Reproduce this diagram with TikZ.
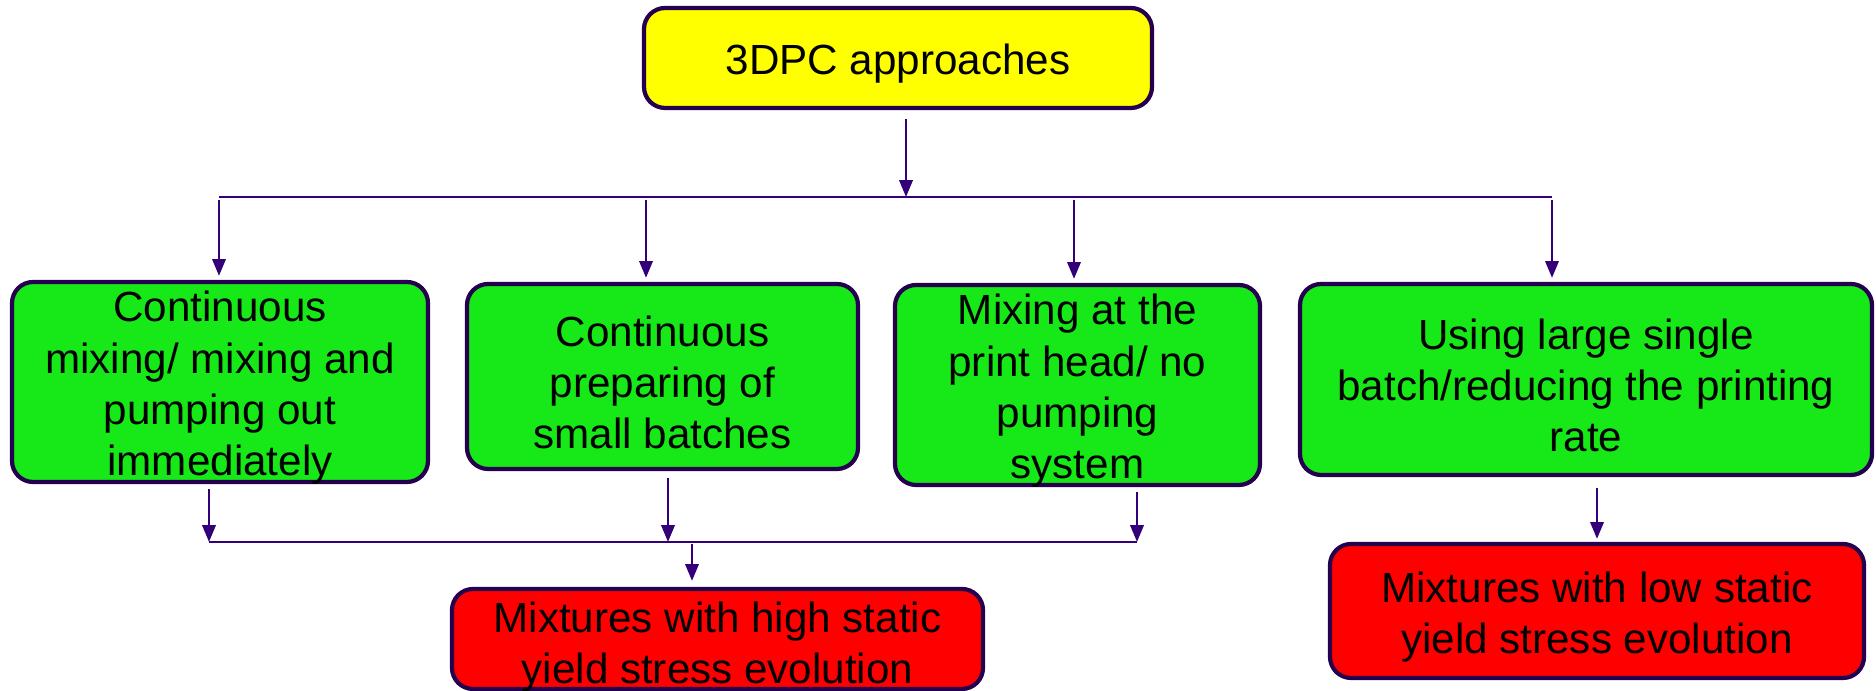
\documentclass[tikz,border=0pt]{standalone}
\usepackage{fontspec}
\setmainfont{Liberation Sans}
\usepackage{xcolor}
\usepackage{tikz}
\usetikzlibrary{positioning, arrows.meta}
\definecolor{dpyellow}{HTML}{FFFF00}
\definecolor{dpgreen}{HTML}{17E817}
\definecolor{dpred}{HTML}{FF0000}
\definecolor{dpborder}{HTML}{24004F}
\definecolor{dpline}{HTML}{33007A}

\begin{document}
\begin{tikzpicture}[
  rootbox/.style={
    rectangle, rounded corners=6pt, draw=dpborder, line width=1.2pt, fill=dpyellow,
    minimum width=5.08cm, minimum height=1cm
  },
  approach/.style={
    rectangle, rounded corners=6pt, draw=dpborder, line width=1.2pt, fill=dpgreen
  },
  result/.style={
    rectangle, rounded corners=6pt, draw=dpborder, line width=1.2pt, fill=dpred
  },
  boxtext/.style={font=\fontsize{12}{14.6}\selectfont, align=center, inner sep=0pt, yshift=-0.06cm},
  arr/.style={-{Triangle[length=4.8pt, width=3.8pt]}, line width=0.7pt, color=dpline},
  bus/.style={line width=0.7pt, color=dpline},
]
\useasboundingbox (0,0) rectangle (18.76,6.91);

% Racine
\node[rootbox] (root) at (8.98,6.33) {};
\node[boxtext] (root-t) at (root.center) {3DPC approaches};

% Approches
\node[approach, minimum width=4.16cm, minimum height=2cm] (mix) at (2.20,3.09) {};
\node[approach, minimum width=3.91cm, minimum height=1.85cm] (batch) at (6.625,3.145) {};
\node[approach, minimum width=3.65cm, minimum height=2cm] (head) at (10.775,3.06) {};
\node[approach, minimum width=5.72cm, minimum height=1.91cm] (single) at (15.86,3.115) {};
\node[boxtext] (mix-t) at (mix.center) {Continuous\\mixing/ mixing and\\pumping out\\immediately};
\node[boxtext] (batch-t) at (batch.center) {Continuous\\preparing of\\small batches};
\node[boxtext] (head-t) at (head.center) {Mixing at the\\print head/ no\\pumping\\system};
\node[boxtext] (single-t) at (single.center) {Using large single\\batch/reducing the printing\\rate};

% Melanges
\node[result, minimum width=5.31cm, minimum height=1cm] (high) at (7.175,0.52) {};
\node[result, minimum width=5.34cm, minimum height=1.34cm] (low) at (15.97,0.80) {};
\node[boxtext, yshift=-0.02cm] (high-t) at (high.center) {Mixtures with high static\\yield stress evolution};
\node[boxtext] (low-t) at (low.center) {Mixtures with low static\\yield stress evolution};

% Points de branchement
\coordinate (split) at (9.06,4.94);
\coordinate (bus-a) at (2.19,4.94);
\coordinate (bus-b) at (6.46,4.94);
\coordinate (bus-c) at (10.74,4.94);
\coordinate (bus-d) at (15.52,4.94);
\coordinate (join-a) at (2.09,1.49);
\coordinate (join-b) at (6.68,1.49);
\coordinate (join-c) at (11.37,1.49);
\coordinate (merge) at (6.92,1.49);
\coordinate (drop) at (15.97,2.16);

% Racine vers approches
\draw[arr, shorten <=0.09cm] (split |- root.south) -- (split);
\draw[bus] (bus-a) -- (bus-d);
\draw[arr, shorten <=0.03cm, shorten >=0.04cm] (bus-a) -- (bus-a |- mix.north);
\draw[arr, shorten <=0.03cm, shorten >=0.04cm] (bus-b) -- (bus-b |- batch.north);
\draw[arr, shorten <=0.03cm, shorten >=0.04cm] (bus-c) -- (bus-c |- head.north);
\draw[arr, shorten <=0.03cm, shorten >=0.04cm] (bus-d) -- (bus-d |- single.north);

% Approches vers melanges
\draw[arr, shorten <=0.05cm] (join-a |- mix.south) -- (join-a);
\draw[arr, shorten <=0.07cm] (join-b |- batch.south) -- (join-b);
\draw[arr, shorten <=0.05cm] (join-c |- head.south) -- (join-c);
\draw[bus] (join-a) -- (join-c);
\draw[arr, shorten <=0.02cm, shorten >=0.06cm] (merge) -- (merge |- high.north);
\draw[arr, shorten <=0.13cm, shorten >=0.03cm] (drop) -- (drop |- low.north);

\end{tikzpicture}
\end{document}
